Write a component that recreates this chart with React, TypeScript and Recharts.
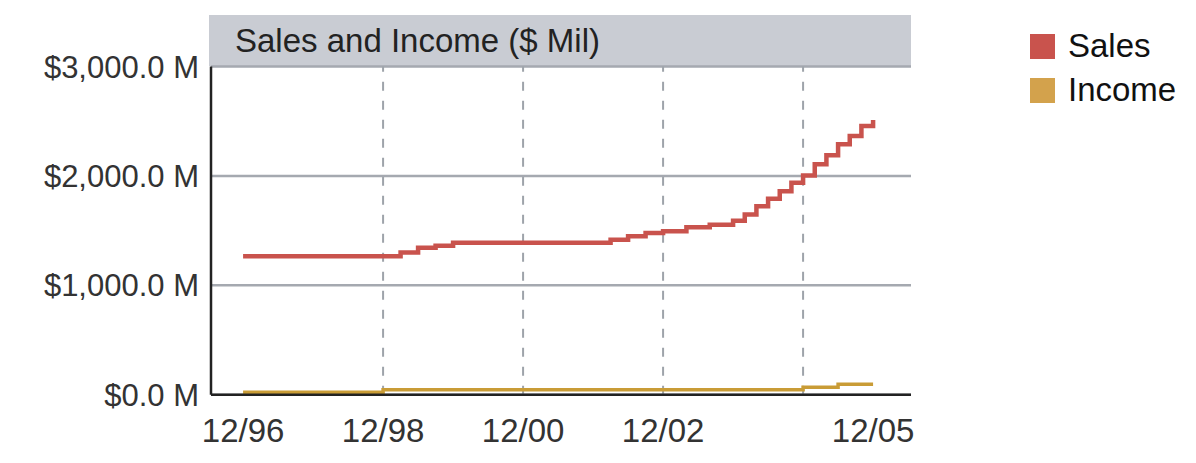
import { LineChart, Line, XAxis, YAxis, CartesianGrid, ReferenceLine, Legend } from "recharts";

const FONT = '"Liberation Sans", Arial, sans-serif';

// months counted from 12/96
const salesMonths = [0, 27, 30, 33, 36, 63, 66, 69, 72, 76, 80, 84, 86, 88, 90, 92, 94, 96, 98, 100, 102, 104, 106, 108];
const salesValues = [1266, 1301, 1344, 1362, 1390, 1417, 1448, 1479, 1494, 1530, 1555, 1590, 1647, 1723, 1791, 1861, 1937, 2005, 2106, 2188, 2289, 2365, 2457, 2512];

const incomeMonths = [0, 24, 96, 102, 108];
const incomeValues = [24, 46, 69, 97, 97];

const xTicks = [0, 24, 48, 72, 108];
const xTickLabels = ["12/96", "12/98", "12/00", "12/02", "12/05"];
const yTicks = [0, 1000, 2000, 3000];
const yearLines = [24, 48, 72, 96];

const legendOrder = ["Sales", "Income"];
const swatch: Record<string, string> = { Sales: "#c9534d", Income: "#d3a24c" };

const salesData = salesMonths.map((m, i) => ({ month: m, sales: salesValues[i] }));
const incomeData = incomeMonths.map((m, i) => ({ month: m, income: incomeValues[i] }));

function LegendBox({ payload }: any) {
  const items = [...(payload ?? [])].sort((a: any, b: any) => legendOrder.indexOf(a.value) - legendOrder.indexOf(b.value));
  return (
    <div style={{ fontFamily: FONT, fontSize: 33, color: "#111" }}>
      {items.map((p: any) => (
        <div key={p.value} style={{ display: "flex", alignItems: "center", height: 44 }}>
          <span style={{ display: "inline-block", width: 25, height: 25, background: swatch[p.value], marginRight: 13 }} />
          {p.value}
        </div>
      ))}
    </div>
  );
}

export default function App() {
  return (
    <div style={{ position: "absolute", left: 0, top: 0, width: 1196, height: 463, background: "#fff" }}>
      <div
        style={{
          position: "absolute",
          left: 209,
          top: 15,
          width: 702,
          height: 51,
          background: "#c9ccd3",
          fontFamily: FONT,
          fontSize: 33,
          lineHeight: "51px",
          color: "#222",
          paddingLeft: 26,
          boxSizing: "border-box",
        }}
      >
        Sales and Income ($ Mil)
      </div>
      <LineChart width={1196} height={463} margin={{ top: 66.5, right: 285, bottom: 0, left: 0 }} style={{ position: "absolute", left: 0, top: 0 }}>
        <CartesianGrid vertical={false} stroke="#a5a9b0" strokeWidth={2.5} />
        {yearLines.map((m) => (
          <ReferenceLine key={m} x={m} stroke="#9ea3aa" strokeWidth={2} strokeDasharray="9 10" />
        ))}
        <XAxis
          dataKey="month"
          type="number"
          domain={[-5.5, 114.5]}
          ticks={xTicks}
          tickFormatter={(v) => xTickLabels[xTicks.indexOf(v)]}
          height={68.2}
          axisLine={{ stroke: "#222", strokeWidth: 2.5 }}
          tickLine={false}
          tickMargin={18}
          tick={{ fontSize: 33, fill: "#333", fontFamily: FONT }}
          allowDataOverflow
        />
        <YAxis
          type="number"
          domain={[0, 3000]}
          ticks={yTicks}
          width={211}
          axisLine={{ stroke: "#222", strokeWidth: 2.5 }}
          tickLine={false}
          tickMargin={6}
          tick={{ fontSize: 31, fill: "#333", fontFamily: FONT }}
          tickFormatter={(v) => `$${Number(v).toLocaleString("en-US", { minimumFractionDigits: 1 })} M`}
        />
        <Legend
          layout="vertical"
          align="center"
          verticalAlign="middle"
          content={<LegendBox />}
          wrapperStyle={{ left: 1030, top: 24, width: 166 }}
        />
        <Line
          data={salesData}
          dataKey="sales"
          name="Sales"
          type="stepAfter"
          stroke="#c9534d"
          strokeWidth={4.5}
          dot={false}
          isAnimationActive={false}
        />
        <Line
          data={incomeData}
          dataKey="income"
          name="Income"
          type="stepAfter"
          stroke="#c99c36"
          strokeWidth={3.5}
          dot={false}
          isAnimationActive={false}
        />
      </LineChart>
    </div>
  );
}
